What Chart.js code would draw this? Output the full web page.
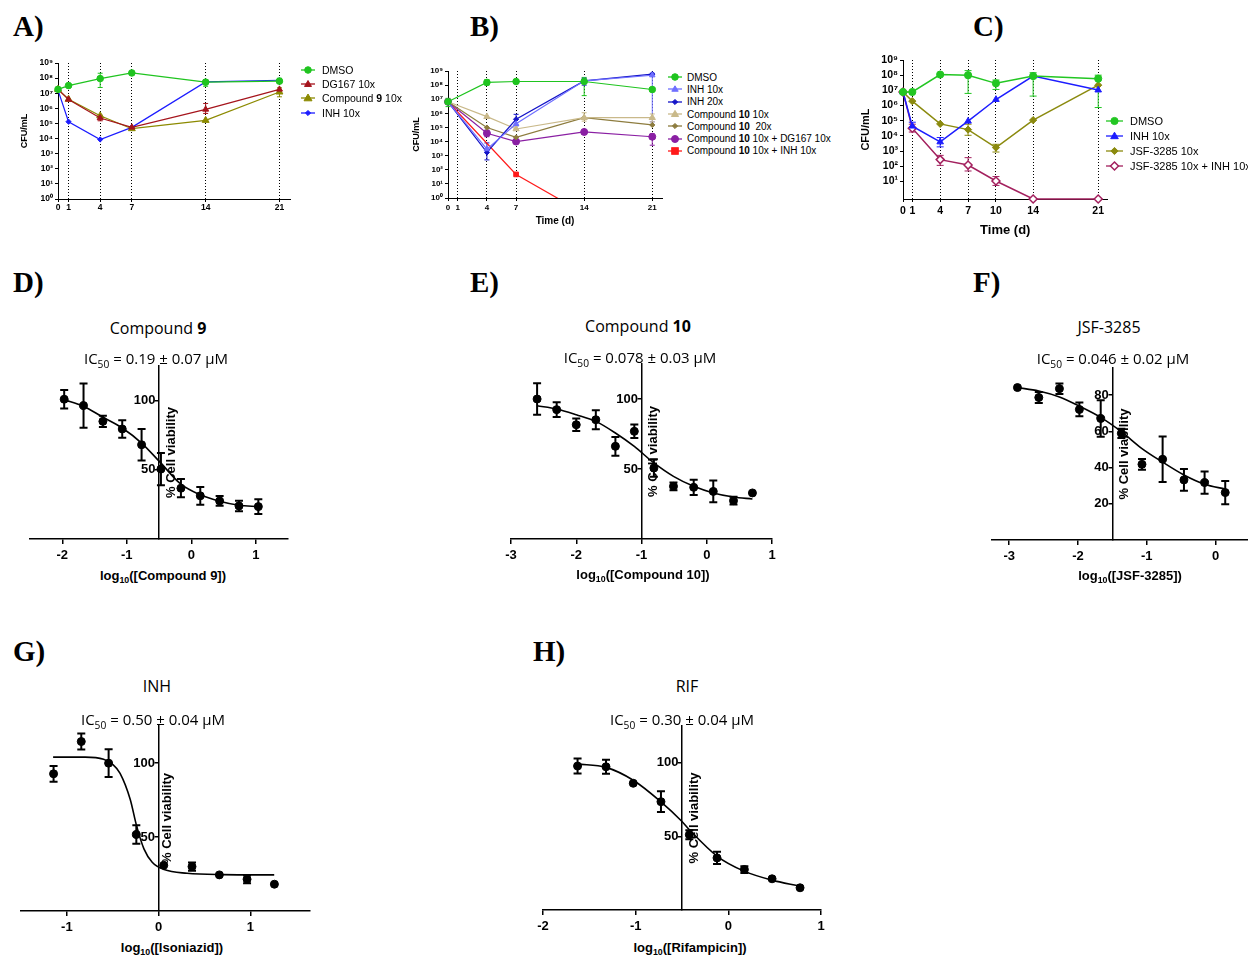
<!doctype html>
<html lang="en">
<head>
<meta charset="utf-8">
<title>Time-kill kinetics and cytotoxicity</title>
<script src="https://cdn.jsdelivr.net/npm/chart.js@4.4.1/dist/chart.umd.min.js"></script>
<style>
  html, body { margin: 0; padding: 0; background: #fff; }
  body { width: 1248px; height: 956px; position: relative; overflow: hidden; font-family: "Liberation Sans", Arial, sans-serif; color: #000; }
  canvas { position: absolute; }
  .tag { position: absolute; font: bold 29px "Liberation Serif", "Times New Roman", serif; line-height: 1; }
  .c { position: absolute; transform: translate(-50%, -50%); white-space: nowrap; line-height: 1; }
  .title { font: 16px "Open Sans", sans-serif; }
  .ic { font: 15px "Open Sans", sans-serif; }
  .xt { font: bold 13px "Liberation Sans", Arial, sans-serif; }
  sub { font-size: 68%; vertical-align: -0.35em; line-height: 0; }
  .legend { position: absolute; white-space: nowrap; font-family: "Liberation Sans", Arial, sans-serif; }
  .legend div { display: flex; align-items: center; }
</style>
</head>
<body>

<div class="tag" style="left:13px;top:12px">A)</div>
<div class="tag" style="left:470px;top:12px">B)</div>
<div class="tag" style="left:973px;top:12px">C)</div>
<div class="tag" style="left:13px;top:268px">D)</div>
<div class="tag" style="left:470px;top:268px">E)</div>
<div class="tag" style="left:973px;top:268px">F)</div>
<div class="tag" style="left:13px;top:637px">G)</div>
<div class="tag" style="left:533px;top:637px">H)</div>

<canvas id="chartA" style="left:0px;top:50px"></canvas>
<canvas id="chartB" style="left:400px;top:60px"></canvas>
<canvas id="chartC" style="left:850px;top:48px"></canvas>
<div class="legend" id="legA" style="left:301px;top:63px;font-size:10.5px"></div>
<div class="legend" id="legB" style="left:668px;top:71px;font-size:10px"></div>
<div class="legend" id="legC" style="left:1106px;top:113px;font-size:11px"></div>

<canvas id="chartD"></canvas>
<canvas id="chartE"></canvas>
<canvas id="chartF"></canvas>
<canvas id="chartG"></canvas>
<canvas id="chartH"></canvas>

<div class="c title" style="left:158px;top:328px">Compound <b>9</b></div>
<div class="c ic" style="left:156px;top:358px">IC<sub>50</sub> = 0.19 ± 0.07 μM</div>
<div class="c xt" style="left:163px;top:575px">log<sub>10</sub>([Compound 9])</div>

<div class="c title" style="left:638px;top:326px">Compound <b>10</b></div>
<div class="c ic" style="left:640px;top:357px">IC<sub>50</sub> = 0.078 ± 0.03 μM</div>
<div class="c xt" style="left:643px;top:574px">log<sub>10</sub>([Compound 10])</div>

<div class="c title" style="left:1109px;top:327px">JSF-3285</div>
<div class="c ic" style="left:1113px;top:358px">IC<sub>50</sub> = 0.046 ± 0.02 μM</div>
<div class="c xt" style="left:1130px;top:575px">log<sub>10</sub>([JSF-3285])</div>

<div class="c title" style="left:157px;top:686px">INH</div>
<div class="c ic" style="left:153px;top:719px">IC<sub>50</sub> = 0.50 ± 0.04 μM</div>
<div class="c xt" style="left:172px;top:947px">log<sub>10</sub>([Isoniazid])</div>

<div class="c title" style="left:687px;top:686px">RIF</div>
<div class="c ic" style="left:682px;top:719px">IC<sub>50</sub> = 0.30 ± 0.04 μM</div>
<div class="c xt" style="left:690px;top:947px">log<sub>10</sub>([Rifampicin])</div>

<script>
// ---- A) time-kill, compound 9 (CFU/mL) ----
const daysA = [0, 1, 4, 7, 14, 21];
const dmsoA = [1.8e7, 3.2e7, 9.3e7, 2.2e8, 5.4e7, 6.3e7];
const dmsoA_lo = [null, null, 2.4e7, null, 2.9e7, 4.4e7];
const dmsoA_hi = [null, null, 2.1e8, null, 8.0e7, 9.8e7];
const dg167A = [1.8e7, 3.9e6, 2.3e5, 5.5e4, 8.5e5, 1.8e7];
const dg167A_lo = [null, null, 1.5e5, null, 4.6e5, null];
const dg167A_hi = [null, null, 3.5e5, null, 2.1e6, null];
const cpd9A = [1.8e7, 4.0e6, 3.2e5, 4.5e4, 1.6e5, 1.2e7];
const cpd9A_lo = [null, null, null, null, null, 5.8e6];
const cpd9A_hi = [null, null, null, null, null, 2.3e7];
const inhA = [1.6e7, 1.3e5, 8.7e3, 5.5e4, 5.6e7, 7.2e7];

// ---- B) time-kill, compound 10 ----
const daysB = [0, 4, 7, 14, 21];
const dmsoB = [6.6e6, 1.55e8, 1.8e8, 1.8e8, 4.9e7];
const dmsoB_lo = [3.0e6, 1.0e8, null, 1.8e7, 3.4e7];
const dmsoB_hi = [1.15e7, 2.5e8, null, 3.5e8, 6.7e7];
const inh10B = [6.6e6, 2.9e3, 1.8e5, 2.0e8, 5.0e8];
const inh10B_lo = [null, null, null, null, 2.5e5];
const inh10B_hi = [null, null, null, null, 7.0e8];
const inh20B = [6.6e6, 1.7e3, 3.8e5, 2.0e8, 6.0e8];
const inh20B_lo = [null, 5.0e2, 1.3e5, 1.0e8, null];
const inh20B_hi = [null, 8.0e3, 8.5e5, 3.0e8, 9.5e8];
const cpd10x10B = [6.6e6, 5.8e5, 7.8e4, 4.9e5, 4.9e5];
const cpd10x10B_lo = [null, null, null, 2.8e5, 2.5e5];
const cpd10x10B_hi = [null, null, null, 1.1e6, 9.0e5];
const cpd10x20B = [6.6e6, 9.8e4, 2.0e4, 4.9e5, 1.5e5];
const cpd10dgB = [6.6e6, 3.9e4, 1.0e4, 4.8e4, 2.2e4];
const cpd10dgB_lo = [null, 2.2e4, null, 3.2e4, 5.5e3];
const cpd10dgB_hi = [null, 6.5e4, null, 6.5e4, 3.5e4];
const cpd10inhB = [6.6e6, null, 47, 0.08, null];

// ---- C) time-kill, JSF-3285 ----
const daysC = [0, 1, 4, 7, 10, 14, 21];
const dmsoC = [7.8e6, 7.8e6, 1.1e8, 1.0e8, 2.9e7, 8.7e7, 5.9e7];
const dmsoC_lo = [null, null, null, 6.3e6, 1.15e7, 4.2e6, 7.4e5];
const dmsoC_hi = [null, null, null, 2.0e8, 4.8e7, 1.45e8, 1.0e8];
const inhC = [7.8e6, 4.4e4, 4.0e3, 9.3e4, 2.5e6, 8.7e7, 1.05e7];
const inhC_lo = [null, 3.0e4, 1.9e3, null, null, null, null];
const inhC_hi = [null, 8.0e4, 7.8e3, null, null, null, null];
const jsfC = [7.8e6, 1.95e6, 6.2e4, 2.6e4, 1.7e3, 1.1e5, 2.2e7];
const jsfC_lo = [null, null, null, 1.1e4, 8.7e2, null, null];
const jsfC_hi = [null, null, null, 5.9e4, 2.8e3, null, null];
const comboC = [7.8e6, 3.2e4, 275, 120, 10.7, 0.7, 0.7];
const comboC_lo = [null, 1.8e4, 115, 49, 5.5, null, null];
const comboC_hi = [null, 5.9e4, 525, 370, 21, null, null];

const timeTicksAB = [0, 1, 4, 7, 14, 21];
const timeTicksC = [0, 1, 4, 7, 10, 14, 21];
const cfuTicksAB = [1, 1e1, 1e2, 1e3, 1e4, 1e5, 1e6, 1e7, 1e8, 1e9];
const cfuTicksC = [1e1, 1e2, 1e3, 1e4, 1e5, 1e6, 1e7, 1e8, 1e9];

// ---- D-H) cell viability (%), log10 concentration ----
const logD = [-1.97, -1.67, -1.37, -1.07, -0.77, -0.47, -0.16, 0.14, 0.44, 0.74, 1.04];
const viabD = [101, 96.4, 85, 79.5, 68.1, 50.5, 36.7, 31.2, 27.5, 23.9, 23.4];
const semD = [6.7, 16, 4, 6.3, 11.3, 11.6, 6.6, 6.4, 3.5, 3.8, 5.4];
const fitXD = [-1.97, -1.67, -1.37, -1.07, -0.77, -0.47, -0.17, 0.14, 0.44, 0.74, 1.04];
const fitYD = [100.7, 95.9, 88, 80.2, 69.3, 54.8, 40, 31.9, 27.3, 24.4, 23.4];

const logE = [-2.6, -2.3, -2.0, -1.7, -1.4, -1.11, -0.81, -0.51, -0.2, 0.1, 0.41, 0.7];
const viabE = [100, 92.4, 81.6, 85.2, 66.2, 76.9, 50.7, 37.6, 36.9, 34, 27.4, 32.9];
const semE = [11.3, 5.3, 4.4, 6.8, 6.7, 4.8, 6.2, 2.7, 5.4, 7.7, 2.8, 0];
const fitXE = [-2.6, -2.3, -2.0, -1.7, -1.4, -1.11, -0.81, -0.51, -0.2, 0.1, 0.41, 0.7];
const fitYE = [95.2, 92.9, 88.8, 84, 75.7, 66.1, 54.3, 44.7, 37.6, 32.9, 30, 28.6];

const logF = [-2.88, -2.57, -2.27, -1.98, -1.67, -1.37, -1.07, -0.77, -0.46, -0.16, 0.14];
const viabF = [84.2, 78.7, 83.6, 72.1, 67.1, 58.9, 41.8, 44.6, 33.2, 31.7, 26.2];
const semF = [0, 3.1, 2.9, 3.8, 10.1, 2.5, 3, 12.6, 6, 6.2, 6.4];
const fitXF = [-2.88, -2.57, -2.27, -1.98, -1.67, -1.37, -1.07, -0.77, -0.46, -0.16, 0.14];
const fitYF = [84.2, 82.3, 79, 73.9, 67.7, 59.8, 50.5, 43, 35.9, 30.8, 28.1];

const logG = [-1.145, -0.843, -0.545, -0.243, 0.056, 0.364, 0.662, 0.964, 1.262];
const viabG = [92.7, 114.5, 99.9, 51.7, 30.9, 30, 24.4, 21.5, 18.1];
const semG = [5.3, 5.4, 9.4, 6.2, 0, 2.8, 0, 2.7, 0];
const fitXG = [-1.15, -0.8, -0.6, -0.5, -0.42, -0.31, -0.24, -0.16, -0.07, 0.06, 0.31, 0.7, 1.26];
const fitYG = [104, 104, 102.5, 99, 93, 75.5, 57.5, 42, 33, 28, 25.5, 24.6, 24.4];

const logH = [-1.627, -1.32, -1.026, -0.727, -0.421, -0.122, 0.173, 0.472, 0.774];
const viabH = [97.8, 97.3, 86.1, 73.6, 51.1, 35.4, 27.5, 21.2, 15.1];
const semH = [5.1, 4.8, 0, 7.1, 3.1, 4.2, 2.3, 0, 0];
const fitXH = [-1.63, -1.32, -1.03, -0.73, -0.5, -0.42, -0.12, 0.17, 0.47, 0.77];
const fitYH = [99.1, 96.9, 88.3, 73.6, 60.1, 54.5, 36.5, 26.4, 20.3, 16.2];

const doseTicksD = [-2, -1, 0, 1];
const doseTicksE = [-3, -2, -1, 0, 1];
const doseTicksF = [-3, -2, -1, 0];
const doseTicksG = [-1, 0, 1];
const doseTicksH = [-2, -1, 0, 1];
const viabTicks = [50, 100];
const viabTicksF = [20, 40, 60, 80];

Chart.defaults.font.family = '"Liberation Sans", Arial, sans-serif';
Chart.defaults.color = '#000';

const sup = ['\u2070', '\u00b9', '\u00b2', '\u00b3', '\u2074', '\u2075', '\u2076', '\u2077', '\u2078', '\u2079'];

// error bars, either symmetric (err) or explicit (errLo / errHi)
const errorBars = {
  id: 'errorBars',
  beforeDatasetsDraw(chart) {
    const ctx = chart.ctx, ys = chart.scales.y;
    chart.data.datasets.forEach((ds, i) => {
      if (!ds.err && !ds.errLo) return;
      const meta = chart.getDatasetMeta(i);
      ctx.save();
      ctx.strokeStyle = ds.borderColor;
      ctx.lineWidth = ds.errWidth || 1;
      meta.data.forEach((pt, j) => {
        let lo, hi;
        if (ds.err) {
          if (!ds.err[j]) return;
          lo = ds.data[j].y - ds.err[j]; hi = ds.data[j].y + ds.err[j];
        } else {
          if (ds.errLo[j] == null) return;
          lo = ds.errLo[j]; hi = ds.errHi[j];
        }
        const x = pt.x, y1 = ys.getPixelForValue(lo), y2 = ys.getPixelForValue(hi), c = ds.errCap || 3;
        ctx.beginPath();
        ctx.moveTo(x, y1); ctx.lineTo(x, y2);
        ctx.moveTo(x - c, y1); ctx.lineTo(x + c, y1);
        ctx.moveTo(x - c, y2); ctx.lineTo(x + c, y2);
        ctx.stroke();
      });
      ctx.restore();
    });
  }
};

// y title drawn on the right of an axis that sits inside the plot
const midTitle = {
  id: 'midTitle',
  beforeDatasetsDraw(chart, args, opts) {
    if (!opts.text) return;
    const {ctx, chartArea} = chart;
    const x = chart.scales.x.getPixelForValue(opts.at) + opts.offset;
    const y = (chartArea.top + chartArea.bottom) / 2;
    ctx.save();
    ctx.translate(x, y);
    ctx.rotate(-Math.PI / 2);
    ctx.font = 'bold 13px "Liberation Sans", Arial, sans-serif';
    ctx.fillStyle = '#000';
    ctx.textAlign = 'center';
    ctx.textBaseline = 'middle';
    ctx.fillText(opts.text, 0, 0);
    ctx.restore();
  }
};

function markerSvg(s, w) {
  const c = s.color, f = s.open ? '#fff' : c, m = w / 2, r = s.r;
  let shape;
  if (s.shape === 'circle') shape = `<circle cx="${m}" cy="5" r="${r}" fill="${f}" stroke="${c}"/>`;
  else if (s.shape === 'triangle') shape = `<polygon points="${m},${5 - r} ${m - r},${5 + r * 0.7} ${m + r},${5 + r * 0.7}" fill="${f}" stroke="${c}"/>`;
  else if (s.shape === 'rect') shape = `<rect x="${m - r}" y="${5 - r}" width="${2 * r}" height="${2 * r}" fill="${f}" stroke="${c}"/>`;
  else shape = `<polygon points="${m},${5 - r} ${m + r},5 ${m},${5 + r} ${m - r},5" fill="${f}" stroke="${c}" stroke-width="${s.open ? 1.5 : 1}"/>`;
  return `<svg width="${w}" height="10" style="margin-right:${s.gap}px;overflow:visible"><line x1="0" y1="5" x2="${w}" y2="5" stroke="${c}" stroke-width="1.3"/>${shape}</svg>`;
}

function legend(id, series, rowH, w, gap) {
  document.getElementById(id).innerHTML = series.map(s =>
    `<div style="height:${rowH}px">${markerSvg(Object.assign({gap}, s), w)}<span>${s.name}</span></div>`).join('');
}

function timeKill(id, o) {
  const datasets = o.series.map(s => ({
    label: s.name.replace(/<[^>]+>/g, ''),
    data: o.days.map((d, i) => ({x: d, y: s.values[i]})),
    borderColor: s.color,
    backgroundColor: s.open ? '#fff' : s.color,
    pointStyle: s.shape,
    pointRadius: s.r,
    pointBorderWidth: s.open ? 1.5 : 1,
    borderWidth: o.lineW,
    spanGaps: true,
    errLo: s.lo, errHi: s.hi, errWidth: 1, errCap: o.cap,
    clip: s.clip ? undefined : false
  }));
  new Chart(document.getElementById(id), {
    type: 'line',
    data: {datasets},
    options: {
      responsive: false, animation: false, events: [],
      layout: {padding: o.pad},
      plugins: {legend: {display: false}, tooltip: {enabled: false}},
      scales: {
        x: {
          type: 'linear', min: 0, max: 22,
          afterBuildTicks: sc => { sc.ticks = o.ticks.map(v => ({value: v})); },
          afterFit: sc => { sc.height = o.xh; },
          grid: {color: '#000', lineWidth: 1, tickLength: 3, tickBorderDash: []},
          border: {color: '#000', width: 1, dash: [1, 2]},
          ticks: {color: '#000', font: {size: o.tickFont, weight: 'bold'}, padding: o.xPad, maxRotation: 0, autoSkip: false},
          title: o.xTitle ? {display: true, text: o.xTitle, font: {size: o.xTitleFont, weight: 'bold'}, padding: {top: 0, bottom: o.xTitlePad}} : {display: false}
        },
        y: {
          type: 'logarithmic', min: o.yMin, max: 1e9,
          afterBuildTicks: sc => { sc.ticks = o.yTicks.map(v => ({value: v})); },
          afterFit: sc => { sc.width = o.yw; },
          grid: {drawOnChartArea: false, color: '#000', tickLength: 3},
          border: {color: '#000', width: 1},
          ticks: {color: '#000', font: {size: o.tickFont, weight: 'bold'}, padding: 2, autoSkip: false,
                  callback: v => '10' + sup[Math.round(Math.log10(v))]},
          title: {display: true, text: 'CFU/mL', font: {size: o.yTitleFont, weight: 'bold'}, padding: {top: o.yTitlePad, bottom: 0}}
        }
      }
    },
    plugins: [errorBars]
  });
}

function doseChart(id, o) {
  const cv = document.getElementById(id);
  const xh = 28;
  cv.style.left = (o.area[0] - 10) + 'px';
  cv.style.top = (o.area[1] - 10) + 'px';
  cv.width = o.area[2] - o.area[0] + 20;
  cv.height = o.area[3] - o.area[1] + 10 + xh;
  new Chart(cv, {
    type: 'scatter',
    data: {datasets: [
      {data: o.fitX.map((x, i) => ({x, y: o.fitY[i]})), showLine: true, borderColor: '#000', borderWidth: 1.6,
       pointRadius: 0, cubicInterpolationMode: 'monotone', clip: false},
      {data: o.x.map((x, i) => ({x, y: o.y[i]})), showLine: false, pointRadius: 4, backgroundColor: '#000',
       borderColor: '#000', err: o.err, errWidth: 2, errCap: 4, clip: false}
    ]},
    options: {
      responsive: false, animation: false, events: [],
      layout: {padding: {left: 10, right: 10, top: 10, bottom: 0}},
      plugins: {legend: {display: false}, tooltip: {enabled: false},
                midTitle: {text: '% Cell viability', at: o.axisAt, offset: o.titleOffset}},
      scales: {
        x: {
          type: 'linear', min: o.xMin, max: o.xMax,
          afterBuildTicks: sc => { sc.ticks = o.xTicks.map(v => ({value: v})); },
          afterFit: sc => { sc.height = xh; },
          grid: {drawOnChartArea: false, color: '#000', lineWidth: 1.5, tickLength: 5},
          border: {color: '#000', width: 1.5},
          ticks: {color: '#000', font: {size: 13, weight: 'bold'}, padding: 4, maxRotation: 0, autoSkip: false}
        },
        y: {
          type: 'linear', position: {x: o.axisAt}, min: 0, max: o.yMax,
          afterBuildTicks: sc => { sc.ticks = o.yTicks.map(v => ({value: v})); },
          grid: {drawOnChartArea: false, color: '#000', lineWidth: 1.5, tickLength: 3.5},
          border: {color: '#000', width: 1.5},
          // label sits right against the axis here, so a trailing space keeps it clear of the tick mark
          ticks: {color: '#000', font: {size: 13, weight: 'bold'}, padding: 1, autoSkip: false, callback: v => v + ' '}
        }
      }
    },
    plugins: [errorBars, midTitle]
  });
}

// ---- build ----
const seriesA = [
  {name: 'DMSO', values: dmsoA, lo: dmsoA_lo, hi: dmsoA_hi, color: '#1fc41f', shape: 'circle', r: 3.3},
  {name: 'DG167 10x', values: dg167A, lo: dg167A_lo, hi: dg167A_hi, color: '#a5141c', shape: 'triangle', r: 3.5},
  {name: 'Compound <b>9</b> 10x', values: cpd9A, lo: cpd9A_lo, hi: cpd9A_hi, color: '#8c8a00', shape: 'triangle', r: 4},
  {name: 'INH 10x', values: inhA, color: '#1c1cff', shape: 'rectRot', r: 2.6}
];
const seriesB = [
  {name: 'DMSO', values: dmsoB, lo: dmsoB_lo, hi: dmsoB_hi, color: '#1fc41f', shape: 'circle', r: 3.3},
  {name: 'INH 10x', values: inh10B, lo: inh10B_lo, hi: inh10B_hi, color: '#6f6fff', shape: 'triangle', r: 3.2},
  {name: 'INH 20x', values: inh20B, lo: inh20B_lo, hi: inh20B_hi, color: '#1414c8', shape: 'rectRot', r: 2.6},
  {name: 'Compound <b>10</b> 10x', values: cpd10x10B, lo: cpd10x10B_lo, hi: cpd10x10B_hi, color: '#c9b98a', shape: 'triangle', r: 3.6},
  {name: 'Compound <b>10</b>&nbsp; 20x', values: cpd10x20B, color: '#8d7c3e', shape: 'rectRot', r: 2.6},
  {name: 'Compound <b>10</b> 10x + DG167 10x', values: cpd10dgB, lo: cpd10dgB_lo, hi: cpd10dgB_hi, color: '#8a1fa3', shape: 'circle', r: 3.5},
  {name: 'Compound <b>10</b> 10x + INH 10x', values: cpd10inhB, color: '#ff1a1a', shape: 'rect', r: 3.3, clip: true}
];
const seriesC = [
  {name: 'DMSO', values: dmsoC, lo: dmsoC_lo, hi: dmsoC_hi, color: '#22c622', shape: 'circle', r: 3.6},
  {name: 'INH 10x', values: inhC, lo: inhC_lo, hi: inhC_hi, color: '#1c1cff', shape: 'triangle', r: 3.8},
  {name: 'JSF-3285 10x', values: jsfC, lo: jsfC_lo, hi: jsfC_hi, color: '#8b8a0e', shape: 'rectRot', r: 3.6},
  {name: 'JSF-3285 10x + INH 10x', values: comboC, lo: comboC_lo, hi: comboC_hi, color: '#a3205e', shape: 'rectRot', r: 4, open: true}
];

document.getElementById('chartA').width = 295; document.getElementById('chartA').height = 172;
document.getElementById('chartB').width = 267; document.getElementById('chartB').height = 170;
document.getElementById('chartC').width = 263; document.getElementById('chartC').height = 193;

timeKill('chartA', {days: daysA, ticks: timeTicksAB, yTicks: cfuTicksAB, yMin: 1, series: seriesA,
  yw: 58, xh: 23, pad: {left: 0, right: 5, top: 13, bottom: 0}, tickFont: 8.5, xPad: 1,
  yTitleFont: 9, yTitlePad: 19.6, lineW: 1.2, cap: 2.5});
timeKill('chartB', {days: daysB, ticks: timeTicksAB, yTicks: cfuTicksAB, yMin: 1, series: seriesB,
  yw: 48, xh: 32, pad: {left: 0, right: 5, top: 11, bottom: 0}, tickFont: 8, xPad: 1.5,
  yTitleFont: 9, yTitlePad: 11.6, lineW: 1.2, cap: 2.5, xTitle: 'Time (d)', xTitleFont: 10, xTitlePad: 3});
timeKill('chartC', {days: daysC, ticks: timeTicksC, yTicks: cfuTicksC, yMin: 0.7, series: seriesC,
  yw: 53, xh: 42, pad: {left: 0, right: 5, top: 12, bottom: 0}, tickFont: 10.5, xPad: 3,
  yTitleFont: 11, yTitlePad: 9.4, lineW: 1.5, cap: 3.5, xTitle: 'Time (d)', xTitleFont: 13, xTitlePad: 2.5});

legend('legA', seriesA, 14.2, 14, 7);
legend('legB', seriesB, 12.3, 14, 5);
legend('legC', seriesC, 15, 17, 7);

doseChart('chartD', {area: [30, 366, 288, 539], xMin: -2.5, xMax: 1.5, yMax: 125, axisAt: -0.5, titleOffset: 12,
  x: logD, y: viabD, err: semD, fitX: fitXD, fitY: fitYD, xTicks: doseTicksD, yTicks: viabTicks});
doseChart('chartE', {area: [511, 364, 772, 539], xMin: -3, xMax: 1, yMax: 125, axisAt: -1, titleOffset: 12,
  x: logE, y: viabE, err: semE, fitX: fitXE, fitY: fitYE, xTicks: doseTicksE, yTicks: viabTicks});
doseChart('chartF', {area: [992, 368, 1250, 540], xMin: -3.25, xMax: 0.5, yMax: 95, axisAt: -1.5, titleOffset: 12.5,
  x: logF, y: viabF, err: semF, fitX: fitXF, fitY: fitYF, xTicks: doseTicksF, yTicks: viabTicksF});
doseChart('chartG', {area: [21, 726, 310, 911], xMin: -1.5, xMax: 1.65, yMax: 125, axisAt: 0, titleOffset: 9,
  x: logG, y: viabG, err: semG, fitX: fitXG, fitY: fitYG, xTicks: doseTicksG, yTicks: viabTicks});
doseChart('chartH', {area: [543, 726, 821, 910], xMin: -2, xMax: 1, yMax: 125, axisAt: -0.5, titleOffset: 12.5,
  x: logH, y: viabH, err: semH, fitX: fitXH, fitY: fitYH, xTicks: doseTicksH, yTicks: viabTicks});
</script>
</body>
</html>
